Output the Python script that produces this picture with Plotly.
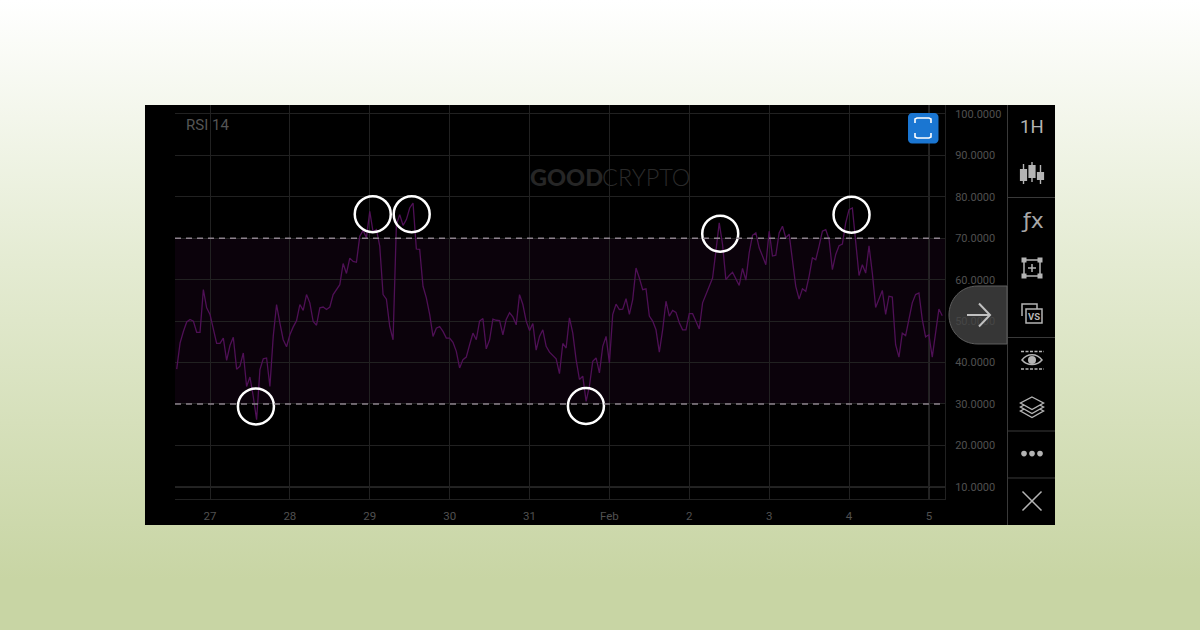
import pandas as pd
import plotly.graph_objects as go

W, H = 1200, 630

# ---------- data ----------
series_start = "2025-01-26 14:00"
rsi_values = [
    38.4, 44.7, 47.5, 49.8, 50.4, 50.0, 47.3, 47.3, 57.6, 53.2, 51.6, 47.9, 44.6, 44.6, 45.9, 40.5,
    44.1, 46.1, 38.4, 39.1, 42.3, 34.2, 36.5, 31.8, 26.2, 38.3, 40.9, 41.1, 34.2, 46.3, 54.0, 49.5,
    45.5, 43.8, 46.7, 48.6, 50.1, 54.0, 52.6, 56.4, 54.4, 49.9, 49.0, 53.2, 53.4, 52.8, 53.4, 56.4,
    57.6, 58.8, 63.9, 61.5, 65.2, 64.4, 64.2, 70.5, 71.9, 70.1, 76.5, 71.5, 72.1, 68.1, 56.4, 55.3,
    48.7, 45.5, 73.3, 75.7, 73.1, 74.5, 77.3, 78.5, 67.4, 67.3, 58.4, 55.6, 51.6, 46.3, 48.3, 48.7,
    47.5, 45.9, 45.9, 44.9, 42.7, 38.7, 40.7, 41.3, 44.3, 47.1, 45.5, 50.0, 50.6, 43.3, 45.5, 50.5,
    50.2, 50.1, 46.7, 50.4, 52.0, 51.0, 49.1, 56.4, 54.0, 50.0, 47.7, 49.4, 43.0, 46.3, 47.9, 43.9,
    42.5, 41.7, 40.9, 37.3, 44.6, 43.5, 50.8, 47.1, 40.7, 35.9, 36.7, 30.6, 34.3, 40.3, 41.1, 37.5,
    43.9, 46.3, 39.9, 51.6, 54.1, 52.8, 52.9, 55.4, 51.6, 55.2, 62.8, 60.4, 57.6, 57.8, 51.2, 50.0,
    47.9, 42.5, 47.9, 54.8, 51.2, 52.6, 52.1, 49.6, 47.9, 47.9, 51.8, 51.8, 50.0, 48.1, 54.4, 56.4,
    58.4, 60.4, 66.9, 73.7, 68.5, 60.0, 61.0, 61.8, 60.2, 58.6, 62.7, 59.9, 66.5, 70.7, 71.3, 67.7,
    65.7, 63.6, 71.7, 65.7, 65.9, 71.3, 72.9, 70.1, 71.0, 64.4, 58.4, 55.3, 57.8, 57.2, 60.8, 65.3,
    64.8, 68.1, 71.7, 72.1, 69.7, 62.4, 66.1, 68.2, 68.6, 73.7, 76.9, 77.3, 69.7, 61.0, 63.6, 61.6,
    68.2, 61.6, 53.3, 55.2, 57.4, 51.6, 56.0, 55.8, 44.3, 41.3, 47.1, 46.5, 50.8, 54.4, 56.4, 56.8,
    50.4, 46.2, 46.7, 41.3, 47.1, 52.9, 51.3,
]
circle_times = ["2025-01-27 13:48", "2025-01-29 00:54", "2025-01-29 12:36",
                "2025-01-31 16:57", "2025-02-02 09:18", "2025-02-04 00:45"]
circle_values = [29.4, 75.8, 75.8, 29.5, 71.1, 75.7]
x_tick_dates = ["2025-01-27", "2025-01-28", "2025-01-29", "2025-01-30", "2025-01-31",
                "2025-02-01", "2025-02-02", "2025-02-03", "2025-02-04", "2025-02-05"]
x_tick_labels = ["27", "28", "29", "30", "31", "Feb", "2", "3", "4", "5"]
y_ticks = [10, 20, 30, 40, 50, 60, 70, 80, 90, 100]
overbought, oversold = 70, 30
cursor_date = "2025-02-05"
cursor_level = 10
rsi_times = pd.date_range(series_start, periods=len(rsi_values), freq="h")

# ---------- colours ----------
GRID = "#212121"
CURSOR = "#484848"
LABEL = "#505050"
ICON = "#b4b4b4"
DIVIDER = "#3a3a3a"


def fx(x):
    return x / W


def fy(y):
    return 1 - y / H


def path(points, close=False):
    s = "M" + " L".join(f"{fx(a):.5f},{fy(b):.5f}" for a, b in points)
    return s + (" Z" if close else "")


def rounded(x0, y0, x1, y1, r):
    k = 0.45 * r
    c = lambda a, b: f"{fx(a):.5f},{fy(b):.5f}"
    return (f"M{c(x0 + r, y0)} L{c(x1 - r, y0)} C{c(x1 - k, y0)} {c(x1, y0 + k)} {c(x1, y0 + r)} "
            f"L{c(x1, y1 - r)} C{c(x1, y1 - k)} {c(x1 - k, y1)} {c(x1 - r, y1)} "
            f"L{c(x0 + r, y1)} C{c(x0 + k, y1)} {c(x0, y1 - k)} {c(x0, y1 - r)} "
            f"L{c(x0, y0 + r)} C{c(x0, y0 + k)} {c(x0 + k, y0)} {c(x0 + r, y0)} Z")


shapes = []


def pshape(d, line=None, width=1.0, fill=None, layer="above"):
    shapes.append(dict(type="path", xref="paper", yref="paper", path=d, layer=layer,
                       line=dict(color=line or "rgba(0,0,0,0)", width=width if line else 0),
                       fillcolor=fill or "rgba(0,0,0,0)"))


def seg(x0, y0, x1, y1, color=ICON, width=1.5, layer="above"):
    pshape(path([(x0, y0), (x1, y1)]), line=color, width=width, layer=layer)


def rect(x0, y0, x1, y1, line=None, width=1.0, fill=None, layer="above"):
    pshape(path([(x0, y0), (x1, y0), (x1, y1), (x0, y1)], close=True), line, width, fill, layer)


# black panel
rect(145, 105, 1055, 525, fill="#000000", layer="below")

# RSI zone and guide lines
shapes.append(dict(type="rect", xref="x domain", yref="y", x0=0, x1=1, y0=oversold, y1=overbought,
                   fillcolor="#0b020b", line=dict(width=0), layer="below"))
for lvl in (overbought, oversold):
    shapes.append(dict(type="line", xref="x domain", yref="y", x0=0, x1=1, y0=lvl, y1=lvl,
                       line=dict(color="#8c828c", width=1.5, dash="6px,5px"), layer="above"))

# brighter crosshair lines
shapes.append(dict(type="line", xref="x", yref="y domain", x0=cursor_date, x1=cursor_date, y0=0, y1=1,
                   line=dict(color=CURSOR, width=1.2), layer="below"))
shapes.append(dict(type="line", xref="x domain", yref="y", x0=0, x1=1, y0=cursor_level, y1=cursor_level,
                   line=dict(color=CURSOR, width=1.2), layer="below"))

# toolbar dividers
seg(1007.5, 105, 1007.5, 525, DIVIDER, 1)
for yy in (197.5, 337.5, 431, 478):
    seg(1007.5, yy, 1055, yy, DIVIDER, 1)

# blue button
pshape(rounded(908, 113, 938.5, 143.5, 4), fill="#1a76d2")
pshape(path([(915, 123), (915, 119), (917, 118), (929, 118), (931, 119), (931, 123)]),
       line="#ffffff", width=1.6)
pshape(path([(915, 133), (915, 137), (917, 138), (929, 138), (931, 137), (931, 133)]),
       line="#ffffff", width=1.6)

# arrow pill
pshape(f"M{fx(1007):.5f},{fy(286):.5f} L{fx(978):.5f},{fy(286):.5f} "
       f"C{fx(960):.5f},{fy(286):.5f} {fx(949):.5f},{fy(300):.5f} {fx(949):.5f},{fy(315):.5f} "
       f"C{fx(949):.5f},{fy(330):.5f} {fx(960):.5f},{fy(344):.5f} {fx(978):.5f},{fy(344):.5f} "
       f"L{fx(1007):.5f},{fy(344):.5f} Z",
       line="#5e5e5e", width=1, fill="rgba(68,68,68,0.8)")
seg(967, 315, 990, 315, "#c0c0c0", 2)
pshape(path([(979, 303.5), (990, 315), (979, 326.5)]), line="#c0c0c0", width=2)

# candlestick icon
for cx, top, bot, y0, y1 in ((1023.5, 164, 184, 169, 181), (1032, 162, 182, 165, 178), (1040.5, 165, 184, 172, 180)):
    seg(cx, top, cx, bot, ICON, 1.4)
    rect(cx - 3.6, y0, cx + 3.6, y1, fill=ICON)

# chart frame icon with plus
rect(1024, 260, 1040, 276, line=ICON, width=1.5)
for cx, cy in ((1024, 260), (1040, 260), (1024, 276), (1040, 276)):
    rect(cx - 2.5, cy - 2.5, cx + 2.5, cy + 2.5, fill=ICON)
seg(1032, 264, 1032, 272, ICON, 1.5)
seg(1028, 268, 1036, 268, ICON, 1.5)

# VS icon
pshape(path([(1022, 316), (1022, 304), (1037, 304), (1037, 309)]), line=ICON, width=1.5)
rect(1026, 309, 1042, 323, line=ICON, width=1.5, fill="#000000")

# eye icon
seg(1021, 351.5, 1044, 351.5, ICON, 1.5)
seg(1021, 369, 1044, 369, ICON, 1.5)
shapes[-1]["line"]["dash"] = "3px,1.5px"
shapes[-2]["line"]["dash"] = "3px,1.5px"
c = lambda a, b: f"{fx(a):.5f},{fy(b):.5f}"
pshape(f"M{c(1022, 360)} C{c(1027, 353)} {c(1037, 353)} {c(1042, 360)} C{c(1037, 366)} {c(1027, 366)} {c(1022, 360)} Z",
       line=ICON, width=1.5)
shapes.append(dict(type="circle", xref="paper", yref="paper", x0=fx(1028), x1=fx(1036), y0=fy(364), y1=fy(356),
                   fillcolor=ICON, line=dict(width=0), layer="above"))

# layers icon
for off in (8, 4, 0):
    pshape(path([(1032, 397 + off), (1043.5, 403 + off), (1032, 409.5 + off), (1020.5, 403 + off)], close=True),
           line=ICON, width=1.4, fill="#000000")

# dots
for cx in (1024, 1032, 1040):
    shapes.append(dict(type="circle", xref="paper", yref="paper", x0=fx(cx - 2.8), x1=fx(cx + 2.8),
                       y0=fy(456.4), y1=fy(450.8), fillcolor=ICON, line=dict(width=0), layer="above"))

# close cross
seg(1022.5, 491.5, 1041.5, 510.5, ICON, 1.5)
seg(1041.5, 491.5, 1022.5, 510.5, ICON, 1.5)


def note(text, x, y, size, color, family="Roboto", anchor="center", weight=None):
    font = dict(family=family, size=size, color=color)
    if weight:
        font["weight"] = weight
    return dict(text=text, xref="paper", yref="paper", x=fx(x), y=fy(y), xanchor=anchor, yanchor="middle",
                showarrow=False, font=font)


annotations = [
    note("RSI 14", 183.5, 125.5, 15, "#555555", anchor="left"),
    note("GOOD", 528, 176.5, 23.5, "#262626", "Lato", "left", 900),
    note("CRYPTO", 599.5, 176.5, 23.5, "#2a2a2a", "Lato", "left", 300),
    note("1H", 1032, 127, 18.5, ICON),
    note("ƒx", 1032, 220, 22, "#a8a8a8", "DejaVu Sans"),
    note("<b>VS</b>", 1034, 316, 9.5, ICON, "Roboto"),
]

fig = go.Figure()
fig.add_trace(go.Scatter(x=rsi_times, y=rsi_values, mode="lines", name="RSI 14",
                         line=dict(color="#4f1056", width=1.3), hoverinfo="skip"))
fig.add_trace(go.Scatter(x=pd.to_datetime(circle_times), y=circle_values, mode="markers", name="extremes",
                         marker=dict(symbol="circle-open", size=36, color="#ffffff", line=dict(color="#ffffff", width=2.5)),
                         hoverinfo="skip"))

# one hour = 3.33 px; axis spans 175..945 px around 27 Jan at 210 px
fig.update_layout(
    width=W, height=H, autosize=False, showlegend=False,
    margin=dict(l=0, r=0, t=0, b=0),
    paper_bgcolor="rgba(0,0,0,0)", plot_bgcolor="rgba(0,0,0,0)",
    shapes=shapes, annotations=annotations,
    xaxis=dict(
        domain=[fx(175), fx(945)], type="date",
        range=["2025-01-26 13:29", "2025-02-05 04:50"],
        tickmode="array", tickvals=x_tick_dates, ticktext=x_tick_labels,
        tickfont=dict(family="Roboto", size=11.5, color=LABEL), ticks="", ticklabelstandoff=6,
        showgrid=True, gridcolor=GRID, gridwidth=1, zeroline=False,
        showline=True, linecolor=GRID, linewidth=1,
    ),
    yaxis=dict(
        domain=[fy(499), fy(105)], range=[7.05, 102.17], side="right",
        tickmode="array", tickvals=y_ticks, tickformat=".4f",
        tickfont=dict(family="Roboto", size=11, color=LABEL), ticks="", ticklabelstandoff=7,
        showgrid=True, gridcolor=GRID, gridwidth=1, zeroline=False,
        showline=True, linecolor=GRID, linewidth=1,
    ),
)

page_css = ("document.documentElement.style.margin='0';"
            "document.body.style.margin='0';document.body.style.overflow='hidden';"
            "document.body.style.height='630px';"
            "document.body.style.background='linear-gradient(180deg,#ffffff 0%,#e4ebd2 42%,#c8d5a4 92%,#c8d5a4 100%)';")
fig.write_html("out.html", post_script=page_css, config=dict(displayModeBar=False))
